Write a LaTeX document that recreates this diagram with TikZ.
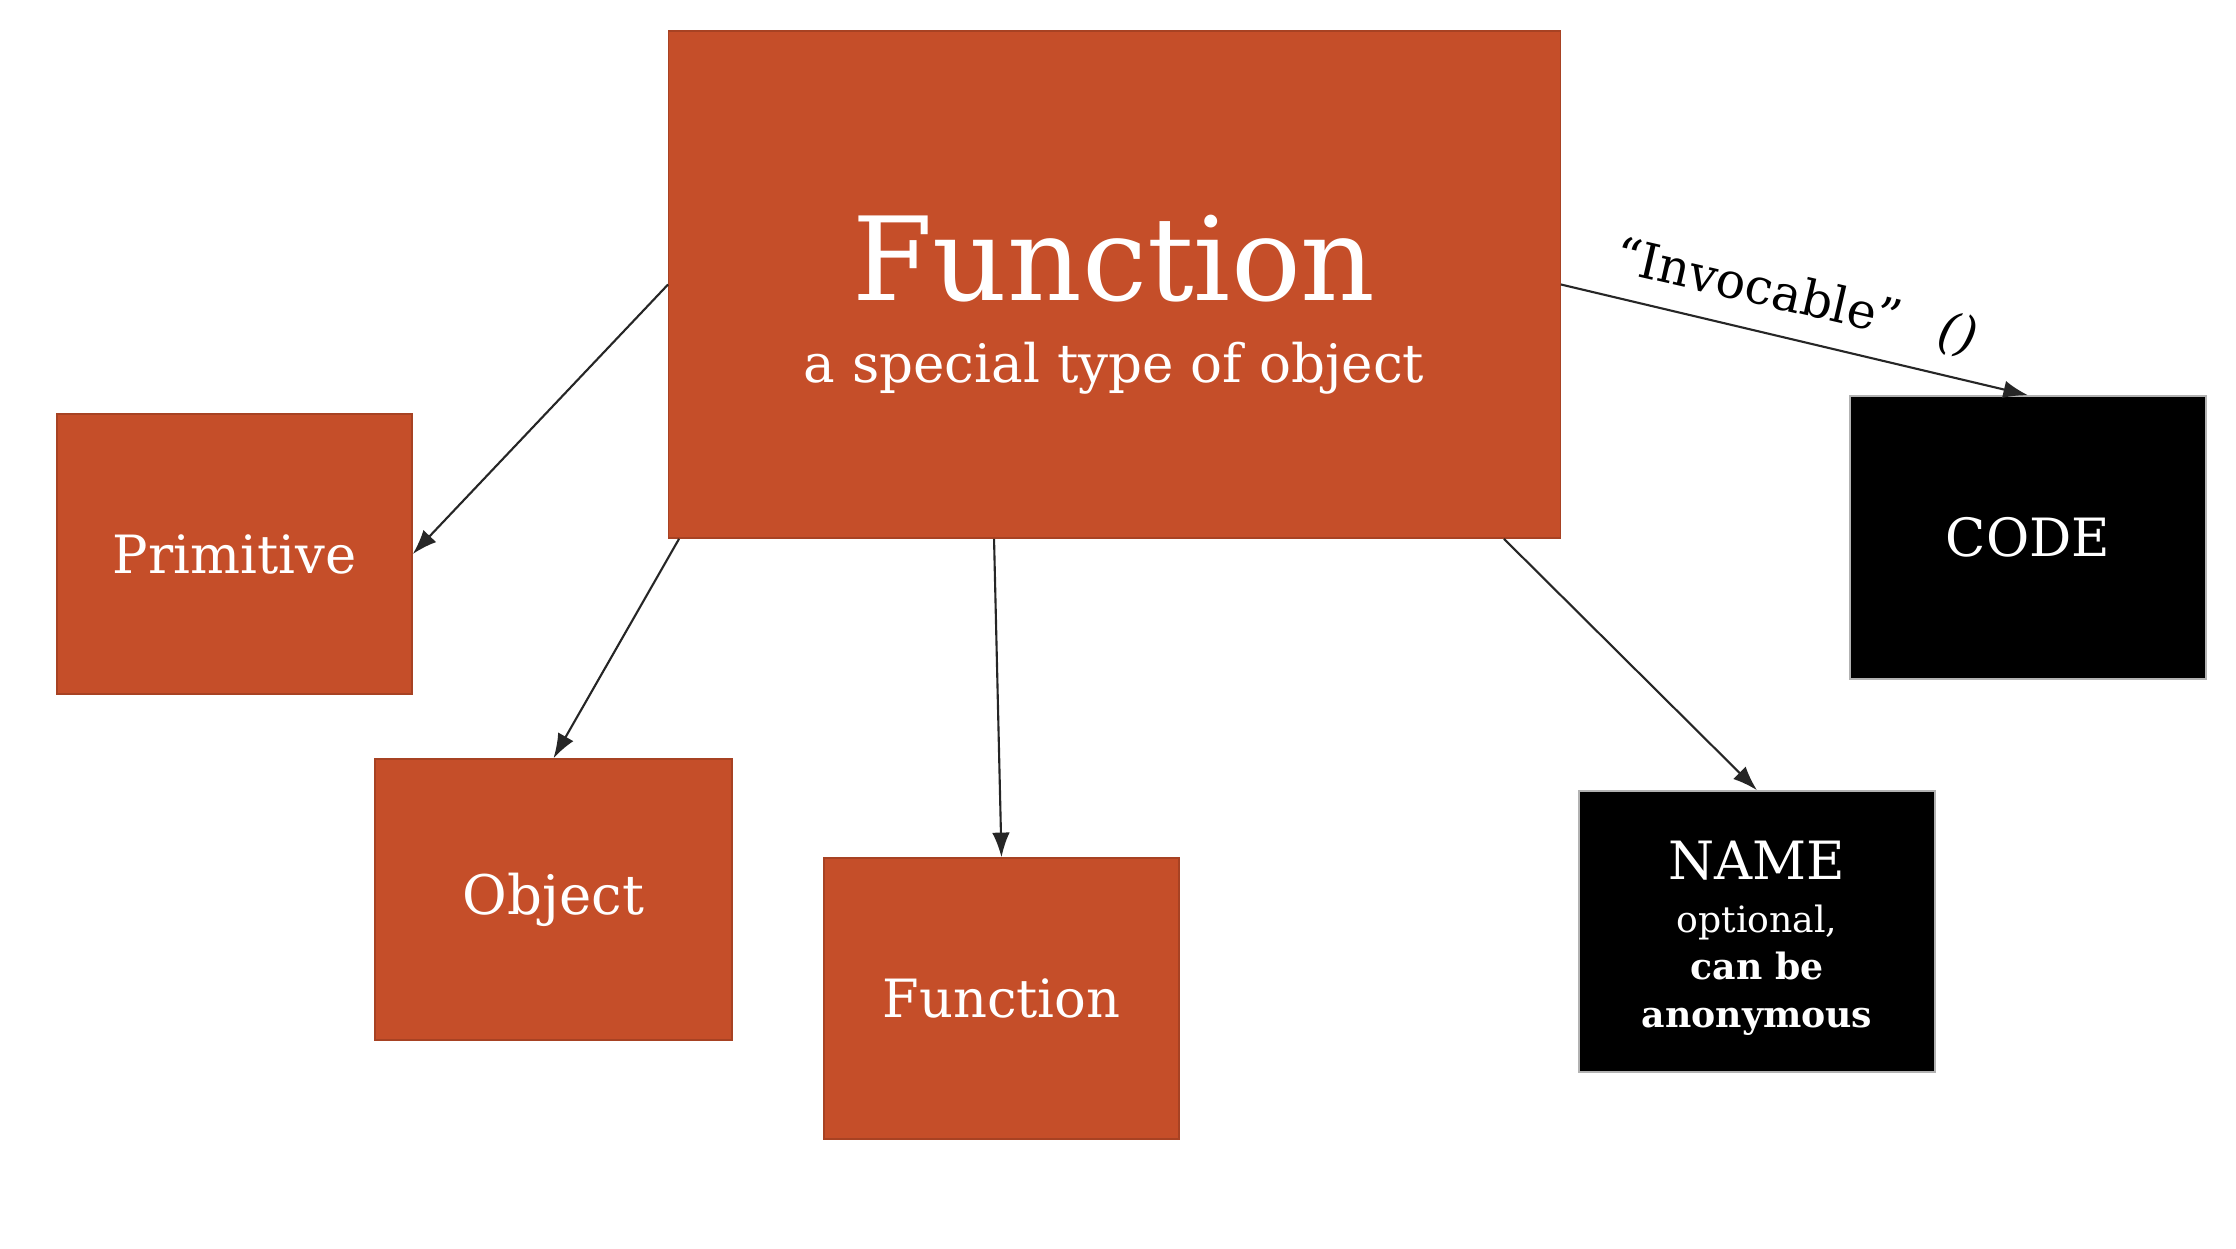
\documentclass[tikz,border=0pt]{standalone}
\usepackage{fontspec}
\setmainfont{DejaVu Serif}
\usetikzlibrary{arrows.meta,calc}
\definecolor{rust}{HTML}{C54E29}
\begin{document}
\begin{tikzpicture}[x=0.01cm,y=-0.01cm,
  box/.style={draw=rust!85!black, line width=0.4pt, fill=rust, text=white, inner sep=0pt, align=center},
  dark/.style={draw=gray!60, line width=0.4pt, fill=black, text=white, inner sep=0pt, align=center},
  conn/.style={draw=black!85, line width=0.6pt, -{Latex[length=7pt,width=5pt]}}]
\useasboundingbox[fill=white] (0,0) rectangle (2236,1248);
\node[box, minimum width=8.91cm, minimum height=5.07cm] (main) at (1114.5,284.5) {};
\node[text=white, align=center, anchor=base] (maintitle) at (1114,300) {\fontsize{33}{38}\selectfont Function};
\node[text=white, align=center, anchor=base] (mainsub) at (1114,382) {\fontsize{15.1}{18}\selectfont a special type of object};
\node[box, minimum width=3.55cm, minimum height=2.80cm, font=\fontsize{15}{18}\selectfont] (prim) at (234.5,554) {Primitive};
\node[box, minimum width=3.57cm, minimum height=2.81cm, font=\fontsize{15.5}{18}\selectfont] (obj) at (553.5,899.5) {Object};
\node[box, minimum width=3.55cm, minimum height=2.81cm, font=\fontsize{15}{18}\selectfont] (fn) at (1001.5,998.5) {Function};
\node[dark, minimum width=3.56cm, minimum height=2.81cm] (name) at (1757,931.5) {};
\node[text=white, align=center, anchor=base] (nametitle) at (1757,879) {\fontsize{15}{18}\selectfont NAME};
\node[text=white, align=center, anchor=base, font=\fontsize{10.3}{13.4}\selectfont] (namesub) at (1757,1027) {optional,\\\textbf{can be}\\\textbf{anonymous}};
\node[dark, minimum width=3.56cm, minimum height=2.83cm, font=\fontsize{15}{18}\selectfont] (code) at (2028,537.5) {CODE};
\draw[conn] (main.west) -- (prim.east);
\draw[conn] ($(main.south west)+(11,0)$) -- (obj.north);
\draw[conn] ($(main.south west)+(326,0)$) -- (fn.north);
\draw[conn] ($(main.south east)+(-57,0)$) -- (name.north);
\draw[conn] (main.east) -- (code.north);
\node[rotate=-13, inner sep=1pt, font=\fontsize{14}{17}\selectfont] (inv) at (1796,298) {``Invocable''\hspace{0.8em}\textit{()}};
\end{tikzpicture}
\end{document}
